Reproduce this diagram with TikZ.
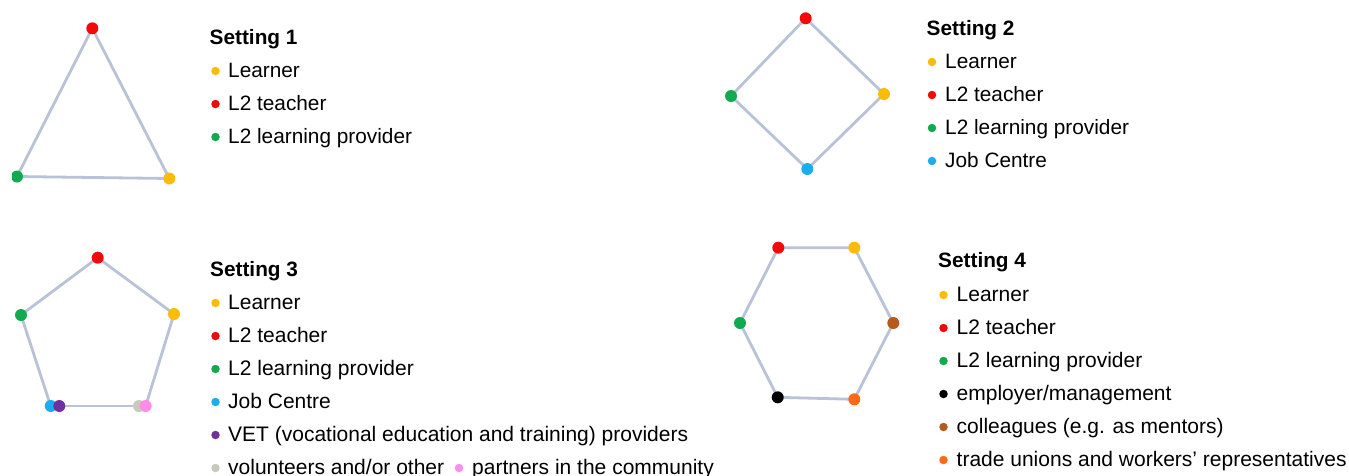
\documentclass[tikz,border=0pt]{standalone}
\usepackage{fontspec}
\setmainfont{Liberation Sans}
\usetikzlibrary{backgrounds}
\definecolor{cy}{HTML}{FBBC05}
\definecolor{cr}{HTML}{F20A0A}
\definecolor{cg}{HTML}{12AA4E}
\definecolor{cb}{HTML}{1AAEF0}
\definecolor{cp}{HTML}{7030A0}
\definecolor{cgr}{HTML}{C6CABB}
\definecolor{cpk}{HTML}{FF8CE6}
\definecolor{cbr}{HTML}{B5591C}
\definecolor{co}{HTML}{FF6A16}
\definecolor{cbk}{HTML}{000000}
\definecolor{edgec}{HTML}{BAC2D8}
\tikzset{
  vdot/.style={circle,inner sep=0pt,minimum size=12pt,fill=#1,draw=none},
  bul/.style={circle,inner sep=0pt,minimum size=8.5pt,fill=#1,draw=none},
  item/.style={anchor=base west,inner sep=0pt,font=\fontsize{20.8}{24}\selectfont},
  itemb/.style={anchor=base west,inner sep=0pt,font=\fontsize{21}{24}\selectfont},
  title/.style={anchor=base west,inner sep=0pt,font=\fontsize{20.8}{24}\selectfont\bfseries},
  edge/.style={draw=edgec,line width=2.8pt}
}
\begin{document}
\begin{tikzpicture}[x=1pt,y=-1pt]
\useasboundingbox (0,0) rectangle (1349,475);
\clip (0,0) rectangle (1349,475);

% ---------- Setting 1 ----------
\begin{scope}
\clip (12,0) rectangle (200,200);
\node[vdot=cr] (a1) at (92.3,28.3) {};
\node[vdot=cg] (a2) at (17,176.5) {};
\node[vdot=cy] (a3) at (169.3,178.5) {};
\begin{pgfonlayer}{background}
\draw[edge] (a1.center) -- (a2.center) -- (a3.center) -- (a1.center);
\end{pgfonlayer}
\end{scope}
\node[title] (t1) at (209.5,44) {Setting 1};
\node[bul=cy] (b11) at (215.5,71) {};
\node[item] (i11) at (228,77) {Learner};
\node[bul=cr] (b12) at (215.5,104) {};
\node[item] (i12) at (228,110) {L2 teacher};
\node[bul=cg] (b13) at (215.5,137) {};
\node[item] (i13) at (228,143) {L2 learning provider};

% ---------- Setting 2 ----------
\node[vdot=cr] (c1) at (805.7,18.3) {};
\node[vdot=cy] (c2) at (884,94) {};
\node[vdot=cb] (c3) at (807.3,169) {};
\node[vdot=cg] (c4) at (731,96) {};
\begin{pgfonlayer}{background}
\draw[edge] (c1.center) -- (c2.center) -- (c3.center) -- (c4.center) -- (c1.center);
\end{pgfonlayer}
\node[title] (t2) at (926.5,35) {Setting 2};
\node[bul=cy] (b21) at (932,62) {};
\node[item] (i21) at (945,68) {Learner};
\node[bul=cr] (b22) at (932,95) {};
\node[item] (i22) at (945,101) {L2 teacher};
\node[bul=cg] (b23) at (932,128) {};
\node[item] (i23) at (945,134) {L2 learning provider};
\node[bul=cb] (b24) at (932,161) {};
\node[item] (i24) at (945,167) {Job Centre};

% ---------- Setting 3 ----------
\node[vdot=cr] (d1) at (97.7,257.7) {};
\node[vdot=cy] (d2) at (174,314) {};
\node[vdot=cg] (d3) at (21,315) {};
\node[vdot=cb] (d4) at (50.7,406) {};
\node[vdot=cp] (d5) at (59.3,406) {};
\node[vdot=cgr] (d6) at (139,406) {};
\node[vdot=cpk] (d7) at (145.7,406) {};
\begin{pgfonlayer}{background}
\draw[edge] (d1.center) -- (d2.center);
\draw[edge] (d1.center) -- (d3.center);
\draw[edge] (d3.center) -- (d4.center);
\draw[edge] (d2.center) -- (d7.center);
\draw[edge] (d5.center) -- (d6.center);
\end{pgfonlayer}
\node[title] (t3) at (210,276) {Setting 3};
\node[bul=cy] (b31) at (215.5,303) {};
\node[itemb] (i31) at (228,309) {Learner};
\node[bul=cr] (b32) at (215.5,336) {};
\node[itemb] (i32) at (228,342) {L2 teacher};
\node[bul=cg] (b33) at (215.5,369) {};
\node[itemb] (i33) at (228,375) {L2 learning provider};
\node[bul=cb] (b34) at (215.5,402) {};
\node[itemb] (i34) at (228,408) {Job Centre};
\node[bul=cp] (b35) at (215.5,435) {};
\node[itemb] (i35) at (228,441) {VET (vocational education and training) providers};
\node[bul=cgr] (b36) at (215.5,468) {};
\node[itemb] (i36) at (228,474) {volunteers and/or other};
\node[bul=cpk] (b37) at (459,468) {};
\node[itemb] (i37) at (472,474) {partners in the community};

% ---------- Setting 4 ----------
\node[vdot=cr] (e1) at (778.3,247.7) {};
\node[vdot=cy] (e2) at (854.3,247.7) {};
\node[vdot=cbr] (e3) at (893.3,323) {};
\node[vdot=co] (e4) at (854.3,399.3) {};
\node[vdot=cbk] (e5) at (777.7,397.3) {};
\node[vdot=cg] (e6) at (740,323) {};
\begin{pgfonlayer}{background}
\draw[edge] (e1.center) -- (e2.center) -- (e3.center) -- (e4.center) -- (e5.center) -- (e6.center) -- (e1.center);
\end{pgfonlayer}
\node[title] (t4) at (938,267) {Setting 4};
\node[bul=cy] (b41) at (943.5,295) {};
\node[itemb] (i41) at (956.5,301) {Learner};
\node[bul=cr] (b42) at (943.5,328) {};
\node[itemb] (i42) at (956.5,334) {L2 teacher};
\node[bul=cg] (b43) at (943.5,361) {};
\node[itemb] (i43) at (956.5,367) {L2 learning provider};
\node[bul=cbk] (b44) at (943.5,394) {};
\node[itemb] (i44) at (956.5,400) {employer/management};
\node[bul=cbr] (b45) at (943.5,427) {};
\node[itemb] (i45) at (956.5,433) {colleagues (e.g. as mentors)};
\node[bul=co] (b46) at (943.5,460) {};
\node[itemb] (i46) at (956.5,466) {trade unions and workers’ representatives};
\end{tikzpicture}
\end{document}
